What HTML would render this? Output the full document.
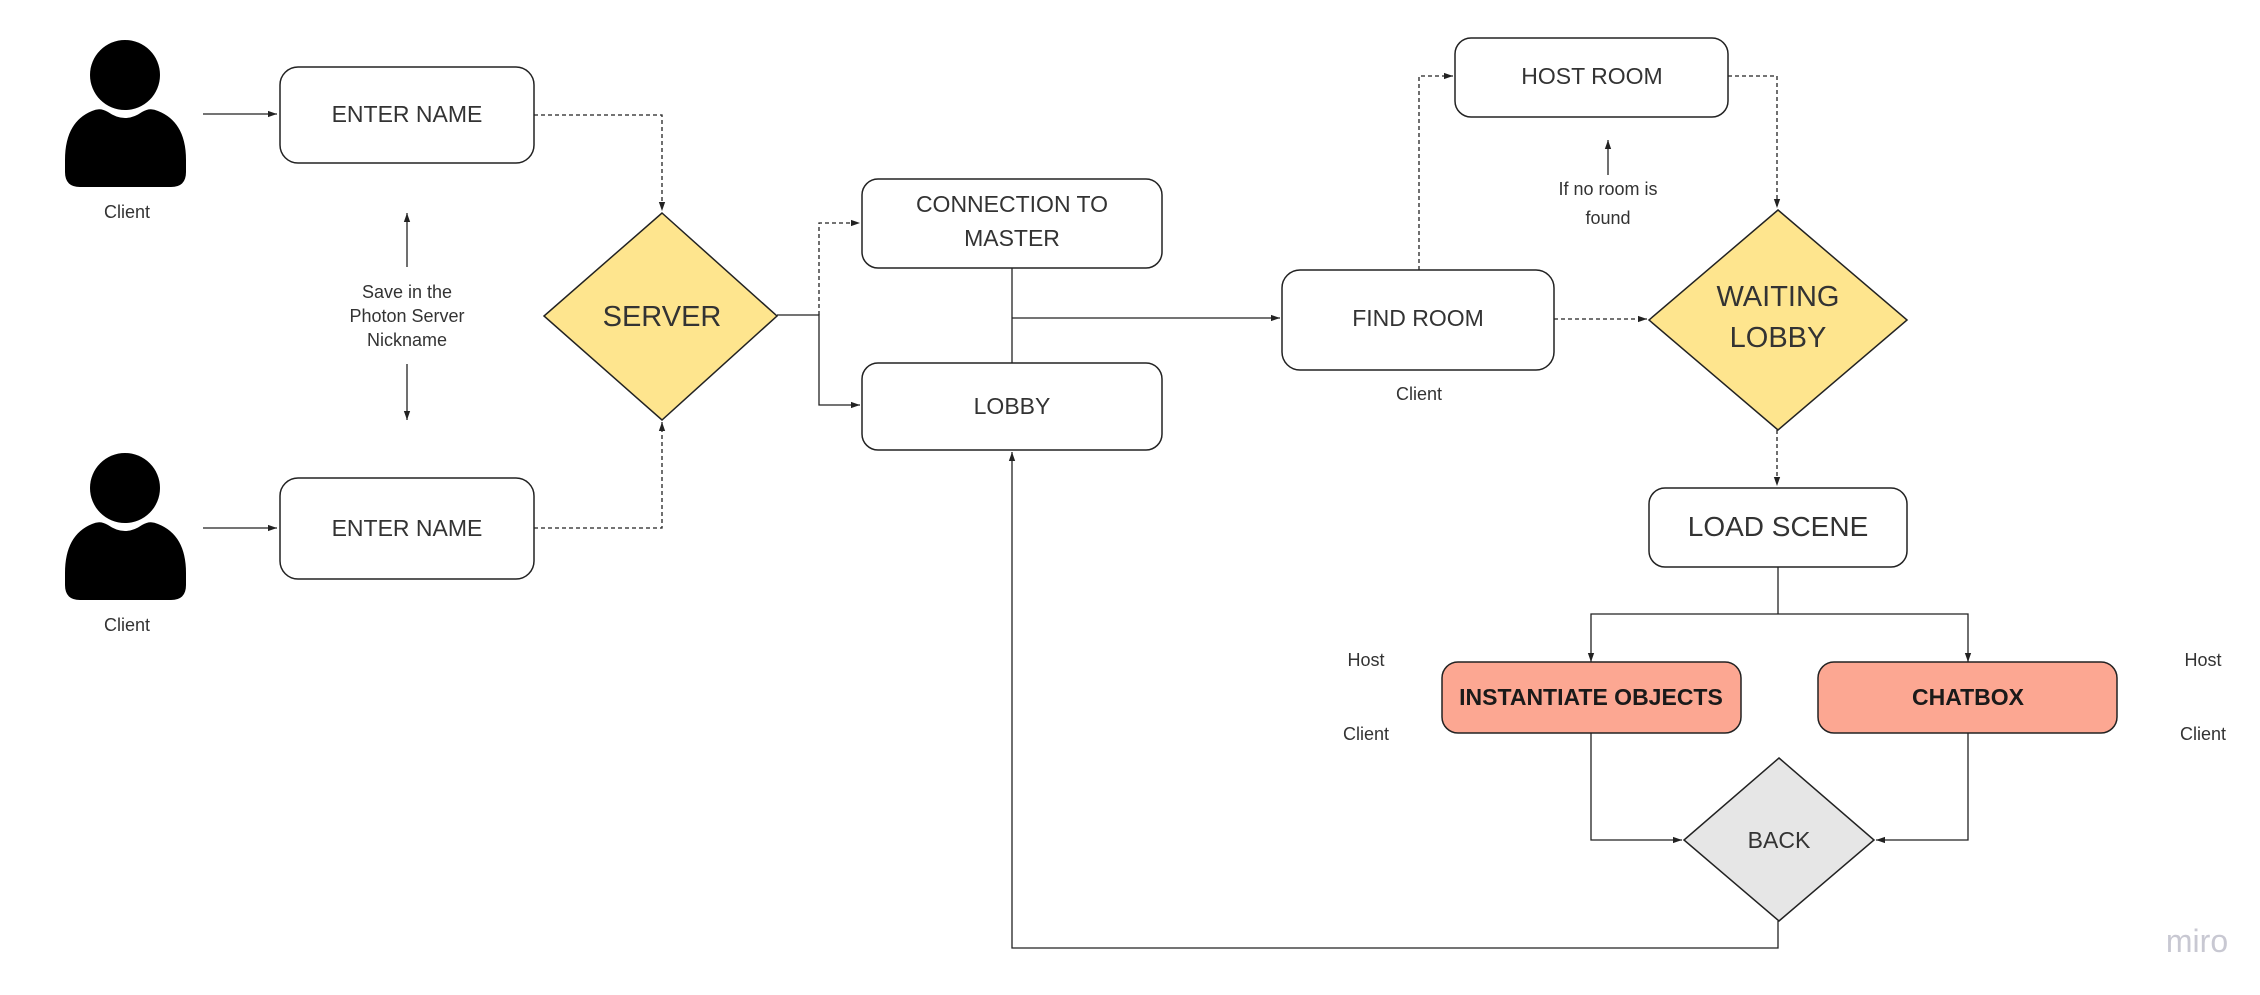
<!DOCTYPE html>
<html><head><meta charset="utf-8"><style>
html,body{margin:0;padding:0;background:#fff;}
svg{display:block;}
text{font-family:"Liberation Sans",sans-serif;fill:#333;}
</style></head><body>
<svg width="2260" height="995" viewBox="0 0 2260 995" xmlns="http://www.w3.org/2000/svg">
<defs>
<marker id="a" viewBox="0 0 10 10" refX="10" refY="5" markerWidth="9" markerHeight="9" orient="auto-start-reverse" markerUnits="userSpaceOnUse"><path d="M0,1.5 L10,5 L0,8.5 z" fill="#222"/></marker>
</defs>
<rect width="2260" height="995" fill="#fff"/>
<!-- persons -->
<g fill="#000">
<circle cx="125" cy="75" r="35"/>
<path d="M92,111 Q100,107 108,112 Q125,124 142,112 Q150,107 158,111 Q186,122 186,160 L186,172 Q186,187 171,187 L80,187 Q65,187 65,172 L65,160 Q65,122 92,111 z"/>
<circle cx="125" cy="488" r="35"/>
<path d="M92,524 Q100,520 108,525 Q125,537 142,525 Q150,520 158,524 Q186,535 186,573 L186,585 Q186,600 171,600 L80,600 Q65,600 65,585 L65,573 Q65,535 92,524 z"/>
</g>
<text x="127" y="218" font-size="18" text-anchor="middle">Client</text>
<text x="127" y="631" font-size="18" text-anchor="middle">Client</text>
<g stroke="#222" stroke-width="1.3" fill="none">
<!-- solid lines -->
<line x1="203" y1="114" x2="277" y2="114" marker-end="url(#a)"/>
<line x1="203" y1="528" x2="277" y2="528" marker-end="url(#a)"/>
<line x1="407" y1="267" x2="407" y2="213" marker-end="url(#a)"/>
<line x1="407" y1="364" x2="407" y2="420" marker-end="url(#a)"/>
<polyline points="777,315 819,315 819,405 860,405" marker-end="url(#a)"/>
<line x1="1012" y1="268" x2="1012" y2="363"/>
<line x1="1012" y1="318" x2="1280" y2="318" marker-end="url(#a)"/>
<line x1="1608" y1="175" x2="1608" y2="140" marker-end="url(#a)"/>
<line x1="1778" y1="567" x2="1778" y2="614"/>
<polyline points="1591,662 1591,614 1968,614 1968,662" marker-end="url(#a)" marker-start="url(#a)"/>
<polyline points="1591,733 1591,840 1682,840" marker-end="url(#a)"/>
<polyline points="1968,733 1968,840 1876,840" marker-end="url(#a)"/>
<polyline points="1778,921 1778,948 1012,948 1012,452" marker-end="url(#a)"/>
</g>
<g stroke="#222" stroke-width="1.3" fill="none" stroke-dasharray="4,3">
<polyline points="534,115 662,115 662,211" marker-end="url(#a)"/>
<polyline points="534,528 662,528 662,422" marker-end="url(#a)"/>
<polyline points="819,315 819,223 860,223" marker-end="url(#a)"/>
<polyline points="1419,270 1419,76 1453,76" marker-end="url(#a)"/>
<polyline points="1728,76 1777,76 1777,208" marker-end="url(#a)"/>
<line x1="1554" y1="319" x2="1647" y2="319" marker-end="url(#a)"/>
<line x1="1777" y1="430" x2="1777" y2="486" marker-end="url(#a)"/>
</g>
<!-- boxes -->
<g stroke="#222" stroke-width="1.5" fill="#fff">
<rect x="280" y="67" width="254" height="96" rx="18"/>
<rect x="280" y="478" width="254" height="101" rx="18"/>
<rect x="862" y="179" width="300" height="89" rx="16"/>
<rect x="862" y="363" width="300" height="87" rx="16"/>
<rect x="1282" y="270" width="272" height="100" rx="18"/>
<rect x="1455" y="38" width="273" height="79" rx="16"/>
<rect x="1649" y="488" width="258" height="79" rx="16"/>
<rect x="1442" y="662" width="299" height="71" rx="16" fill="#fca792"/>
<rect x="1818" y="662" width="299" height="71" rx="16" fill="#fca792"/>
<polygon points="662,213 777,316 662,420 544,316" fill="#fee58e"/>
<polygon points="1778,210 1907,320 1778,430 1649,320" fill="#fee58e"/>
<polygon points="1779,758 1874,840 1779,921 1684,840" fill="#e6e6e6"/>
</g>
<g font-size="23" text-anchor="middle">
<text x="407" y="122">ENTER NAME</text>
<text x="407" y="536">ENTER NAME</text>
<text x="1012" y="212">CONNECTION TO</text>
<text x="1012" y="246">MASTER</text>
<text x="1012" y="414">LOBBY</text>
<text x="1418" y="326">FIND ROOM</text>
<text x="1592" y="84">HOST ROOM</text>
<text x="1779" y="848">BACK</text>
</g>
<text x="662" y="326" font-size="29" text-anchor="middle">SERVER</text>
<text x="1778" y="306" font-size="29" text-anchor="middle">WAITING</text>
<text x="1778" y="347" font-size="29" text-anchor="middle">LOBBY</text>
<text x="1778" y="536" font-size="28" text-anchor="middle">LOAD SCENE</text>
<text x="1591" y="705" font-size="23" font-weight="bold" text-anchor="middle" style="fill:#1a1a1a">INSTANTIATE OBJECTS</text>
<text x="1968" y="705" font-size="23" font-weight="bold" text-anchor="middle" style="fill:#1a1a1a">CHATBOX</text>
<g font-size="18" text-anchor="middle">
<text x="407" y="298">Save in the</text>
<text x="407" y="322">Photon Server</text>
<text x="407" y="346">Nickname</text>
<text x="1608" y="195">If no room is</text>
<text x="1608" y="224">found</text>
<text x="1419" y="400">Client</text>
<text x="1366" y="666">Host</text>
<text x="1366" y="740">Client</text>
<text x="2203" y="666">Host</text>
<text x="2203" y="740">Client</text>
</g>
<text x="2197" y="952" font-size="32" text-anchor="middle" style="fill:#c8c8d2">miro</text>
</svg>
</body></html>
